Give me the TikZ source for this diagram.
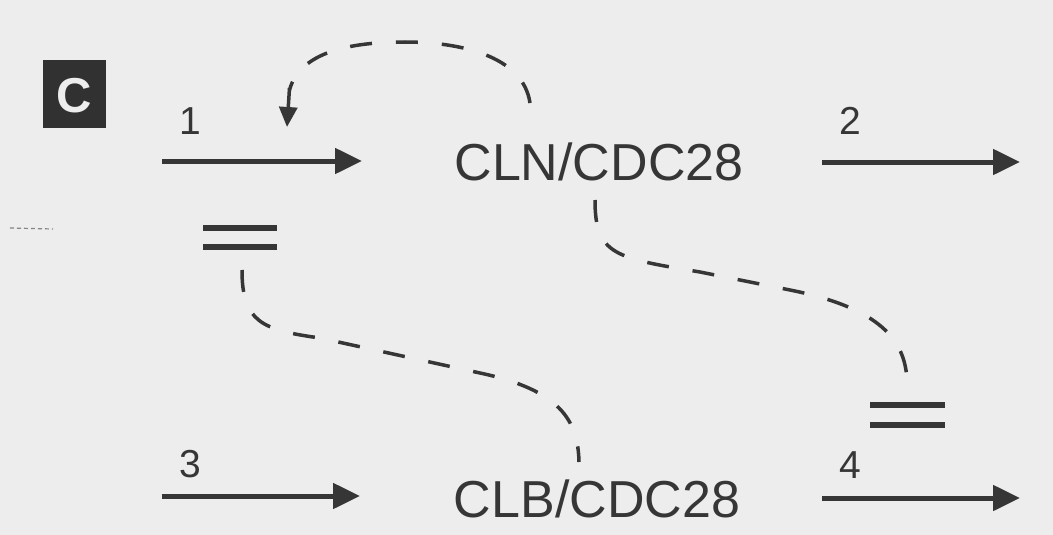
\documentclass[tikz,border=0pt]{standalone}
\usepackage{fontspec}
\setmainfont{Liberation Sans}
\usetikzlibrary{arrows.meta}
\definecolor{bg}{HTML}{EDEDED}
\definecolor{ink}{HTML}{363636}
\begin{document}
\begin{tikzpicture}[x=1pt,y=-1pt,
  mainarr/.style={draw=ink, line width=5pt, -{Triangle[length=27pt,width=25pt]}},
  dashline/.style={draw=ink, line width=3.5pt, dash pattern=on 22pt off 24pt},
  smallarr/.style={draw=ink, line width=3.5pt, -{Triangle[length=20pt,width=18pt]}},
  barline/.style={draw=ink, line width=5.5pt},
  lbl/.style={text=ink, font=\fontsize{39}{45}\selectfont, anchor=base, inner sep=0pt},
  enz/.style={text=ink, font=\fontsize{52}{60}\selectfont, anchor=base, inner sep=0pt}]
\fill[bg] (0,0) rectangle (1053,535);
\useasboundingbox (0,0) rectangle (1053,535);

% panel letter
\fill[ink!90!black] (43,60) rectangle (106,128);
\node[text=bg, font=\bfseries\fontsize{49}{55}\selectfont, anchor=base, inner sep=0pt] (panel) at (74.5,113) {C};

% enzyme complexes
\node[enz] (cln) at (599,180) {CLN/CDC28};
\node[enz] (clb) at (597,517) {CLB/CDC28};

% reaction arrows
\coordinate (a1s) at (162,161); \coordinate (a1e) at (362,161);
\coordinate (a2s) at (822,162); \coordinate (a2e) at (1020,162);
\coordinate (a3s) at (162,496); \coordinate (a3e) at (360,496);
\coordinate (a4s) at (822,498); \coordinate (a4e) at (1020,498);
\draw[mainarr] (a1s) -- (a1e);
\draw[mainarr] (a2s) -- (a2e);
\draw[mainarr] (a3s) -- (a3e);
\draw[mainarr] (a4s) -- (a4e);

\node[lbl] (l1) at (190,135) {1};
\node[lbl] (l2) at (850,135) {2};
\node[lbl] (l3) at (190,477) {3};
\node[lbl] (l4) at (850,478) {4};

% inhibition bars
\coordinate (b1a) at (203,228); \coordinate (b1b) at (277,228);
\coordinate (b1c) at (203,247); \coordinate (b1d) at (277,247);
\draw[barline] (b1a) -- (b1b);
\draw[barline] (b1c) -- (b1d);
\coordinate (b2a) at (870,405); \coordinate (b2b) at (945,405);
\coordinate (b2c) at (870,425); \coordinate (b2d) at (945,425);
\draw[barline] (b2a) -- (b2b);
\draw[barline] (b2c) -- (b2d);

% positive feedback: CLN/CDC28 -> reaction 1
\coordinate (f1s) at (530,103);
\coordinate (f1m) at (289.5,90);
\coordinate (f1e) at (287,127);
\draw[dashline] (f1s) .. controls (523,55) and (458,42) .. (405,42)
  .. controls (350,42) and (300,52) .. (f1m);
\draw[smallarr] (289.5,88) -- (f1e);

% CLB/CDC28 inhibits reaction 1
\coordinate (f2s) at (242,270);
\coordinate (f2e) at (579,462);
\draw[dashline] (f2s) .. controls (242,322) and (262,330) .. (320,338)
  -- (480,373) .. controls (560,390) and (578,420) .. (f2e);

% CLN/CDC28 inhibits reaction 4
\coordinate (f3s) at (595,200);
\coordinate (f3e) at (907,380);
\draw[dashline] (f3s) .. controls (595,255) and (615,258) .. (700,272)
  -- (790,290) .. controls (880,308) and (905,340) .. (f3e);

% small scan mark at left edge
\coordinate (m1) at (10,228); \coordinate (m2) at (53,229);
\draw[ink!60, line width=1.2pt, dash pattern=on 4pt off 3pt] (m1) -- (m2);
\end{tikzpicture}
\end{document}
